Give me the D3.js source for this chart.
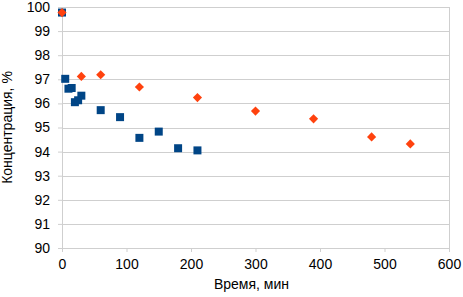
<!DOCTYPE html>
<html>
<head>
<meta charset="utf-8">
<script src="https://cdn.jsdelivr.net/npm/d3@7"></script>
<style>
  body { margin: 0; background: #fff; }
  text { font-family: "Liberation Sans", Arial, sans-serif; fill: #000; }
</style>
</head>
<body>
<div id="chart"></div>
<script>
// series 1 - blue squares
const blueX = [0, 5, 10, 15, 20, 25, 30, 60, 90, 120, 150, 180, 210]
const blueY = [99.77, 97.02, 96.61, 96.64, 96.05, 96.13, 96.32, 95.72, 95.43, 94.57, 94.83, 94.14, 94.05]

// series 2 - orange diamonds
const orangeX = [0, 30, 60, 120, 210, 300, 390, 480, 540]
const orangeY = [99.77, 97.12, 97.19, 96.68, 96.24, 95.68, 95.36, 94.61, 94.32]

const xTicks = [0, 100, 200, 300, 400, 500, 600]
const yTicks = [90, 91, 92, 93, 94, 95, 96, 97, 98, 99, 100]

const svg = d3.select("#chart").append("svg")
  .attr("width", 463)
  .attr("height", 297)

const margin = {top: 7, right: 14, bottom: 49, left: 62}
const width = 463 - margin.left - margin.right
const height = 297 - margin.top - margin.bottom
const g = svg.append("g")
  .attr("transform", `translate(${margin.left}, ${margin.top})`)

const x = d3.scaleLinear().domain([0, 600]).range([0, width])
const y = d3.scaleLinear().domain([90, 100]).range([height, 0])

// grid
g.selectAll(".grid")
  .data(yTicks)
  .enter()
  .append("line")
  .attr("x1", 0)
  .attr("x2", width)
  .attr("y1", d => Math.round(y(d)) + 0.5)
  .attr("y2", d => Math.round(y(d)) + 0.5)
  .attr("stroke", "#cfcfcf")

// right border
g.append("line")
  .attr("x1", width + 0.5).attr("x2", width + 0.5)
  .attr("y1", 0).attr("y2", height)
  .attr("stroke", "#cfcfcf")

// axes
const xAxis = g.append("g")
  .attr("transform", `translate(0, ${height})`)
  .call(d3.axisBottom(x).tickValues(xTicks).tickSize(4).tickPadding(7))
xAxis.select(".domain").attr("stroke", "#cfcfcf")
xAxis.selectAll(".tick line").attr("stroke", "#cfcfcf")
xAxis.selectAll("text").attr("font-size", "14px").style("fill", "#000")

const yAxis = g.append("g")
  .call(d3.axisLeft(y).tickValues(yTicks).tickSize(4).tickPadding(8))
yAxis.select(".domain").attr("stroke", "#cfcfcf")
yAxis.selectAll(".tick line").attr("stroke", "#cfcfcf")
yAxis.selectAll("text").attr("font-size", "14px").style("fill", "#000")
svg.selectAll(".tick text").attr("font-family", "Liberation Sans, Arial, sans-serif")

// points
const sq = d3.symbol().type(d3.symbolSquare).size(64)
const dm = d3.symbol().type(d3.symbolSquare).size(42)

g.selectAll(".blue")
  .data(blueX.map((v, i) => [v, blueY[i]]))
  .enter()
  .append("path")
  .attr("d", sq)
  .attr("transform", d => `translate(${x(d[0])}, ${y(d[1])})`)
  .attr("fill", "#004586")

g.selectAll(".orange")
  .data(orangeX.map((v, i) => [v, orangeY[i]]))
  .enter()
  .append("path")
  .attr("d", dm)
  .attr("transform", d => `translate(${x(d[0])}, ${y(d[1])}) rotate(45)`)
  .attr("fill", "#ff420e")

// titles
svg.append("text")
  .attr("x", margin.left + width / 2 - 4)
  .attr("y", 289)
  .attr("text-anchor", "middle")
  .attr("font-size", "14px")
  .text("Время, мин")

svg.append("text")
  .attr("transform", `translate(12, ${margin.top + height / 2}) rotate(-90)`)
  .attr("text-anchor", "middle")
  .attr("font-size", "14px")
  .text("Концентрация, %")
</script>
</body>
</html>
